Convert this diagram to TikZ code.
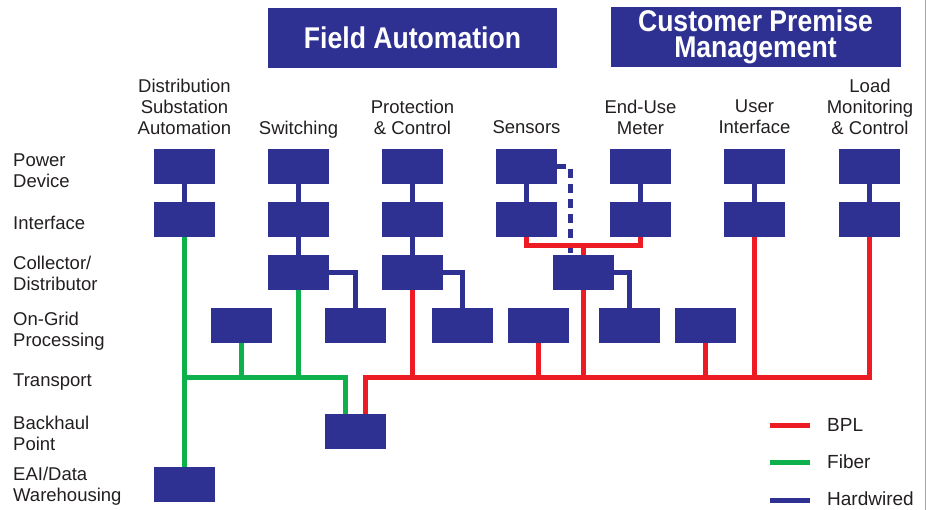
\documentclass[tikz,border=0pt]{standalone}
\usepackage{fontspec}
\setmainfont{Liberation Sans}
\newfontfamily\titlefont[FakeStretch=0.886]{Liberation Sans}
\definecolor{navy}{HTML}{2E3192}
\definecolor{bplred}{HTML}{ED1C24}
\definecolor{fibergreen}{HTML}{0DB04B}
\definecolor{txt}{HTML}{231F20}
\begin{document}
\begin{tikzpicture}[x=1pt,y=-1pt,
  blk/.style={fill=navy,draw=none,minimum width=61pt,minimum height=35pt,inner sep=0pt},
  titlebox/.style={fill=navy,draw=none,inner sep=0pt,text=white,align=center,
    font=\titlefont\bfseries\fontsize{30}{26}\selectfont},
  collabel/.style={anchor=north,inner sep=0pt,align=center,text=txt,
    font=\fontsize{18.5}{21}\selectfont},
  rowlabel/.style={anchor=north west,inner sep=0pt,align=left,text=txt,
    font=\fontsize{18.5}{21}\selectfont},
  leglabel/.style={anchor=west,inner sep=0pt,text=txt,
    font=\fontsize{19}{21}\selectfont},
  wire/.style={line width=5pt,line join=miter},
  hw/.style={wire,navy},
  bpl/.style={wire,bplred},
  fiber/.style={wire,fibergreen},
  hwdash/.style={wire,navy,dash pattern=on 9pt off 6pt}]
\useasboundingbox (0,0) rectangle (929,510);
% right border
\draw[gray!70,line width=1pt] (925.3,0) -- (925.3,510);

% title boxes
\node[titlebox,minimum width=289pt,minimum height=60pt] (fa) at (412.5,37.8) {Field Automation};
\node[titlebox,minimum width=290pt,minimum height=60pt] (cpm) at (755.5,37.3) {Customer Premise\\Management};

% column labels
\node[collabel] (l1) at (184.5,78.5) {Distribution\\Substation\\Automation};
\node[collabel] (l2) at (298.5,120.5) {Switching};
\node[collabel] (l3) at (412.5,99.5) {Protection\\\& Control};
\node[collabel] (l4) at (526.5,120.5) {Sensors};
\node[collabel] (l5) at (640.5,99.5) {End-Use\\Meter};
\node[collabel] (l6) at (754.5,99.5) {User\\Interface};
\node[collabel] (l7) at (870,78.5) {Load\\Monitoring\\\& Control};

% row labels
\node[rowlabel] (rl1) at (13,153.5) {Power\\Device};
\node[rowlabel] (rl2) at (13,216) {Interface};
\node[rowlabel] (rl3) at (13,256) {Collector/\\Distributor};
\node[rowlabel] (rl4) at (13,312) {On-Grid\\Processing};
\node[rowlabel] (rl5) at (13,374) {Transport};
\node[rowlabel] (rl6) at (13,416) {Backhaul\\Point};
\node[rowlabel] (rl7) at (13,467) {EAI/Data\\Warehousing};

% power device and interface rows
\foreach \i/\x in {1/184.5,2/298.5,3/412.5,4/526.5,5/640.5,6/754.5,7/869.5}{
  \node[blk] (p\i) at (\x,166.5) {};
  \node[blk] (f\i) at (\x,219.5) {};
}
% collectors
\node[blk] (k2) at (298.5,272.5) {};
\node[blk] (k3) at (412.5,272.5) {};
\node[blk] (k4) at (583.5,272.5) {};
% on-grid
\foreach \i/\x in {1/241.5,2/355.5,3/462.5,4/538.5,5/629.5,6/705.5}{
  \node[blk] (o\i) at (\x,325.5) {};
}
% backhaul and EAI
\node[blk] (bh) at (355.5,431.5) {};
\node[blk] (ea) at (184.5,484.5) {};

\coordinate (g0) at (184.5,378);
\coordinate (rt) at (583.5,245.5);

% hardwired
\foreach \i in {1,...,7}{ \draw[hw] (p\i.south) -- (f\i.north); }
\draw[hw] (f2.south) -- (k2.north);
\draw[hw] (f3.south) -- (k3.north);
\draw[hw] (k2.east) -| (o2.north);
\draw[hw] (k3.east) -| (o3.north);
\draw[hw] (k4.east) -| (o5.north);
\draw[hwdash] (p4.east) -| ([xshift=-13.5pt]k4.north);

% fiber
\draw[fiber] (f1.south) -- (ea.north);
\draw[fiber] (g0) -| ([xshift=-10pt]bh.north);
\draw[fiber] (o1.south) -- (o1.south |- g0);
\draw[fiber] (k2.south) -- (k2.south |- g0);

% BPL
\draw[bpl] ([xshift=9.5pt]bh.north) |- (f7.south |- g0) -- (f7.south);
\draw[bpl] (k3.south) -- (k3.south |- g0);
\draw[bpl] (o4.south) -- (o4.south |- g0);
\draw[bpl] (k4.south) -- (k4.south |- g0);
\draw[bpl] (o6.south) -- (o6.south |- g0);
\draw[bpl] (f6.south) -- (f6.south |- g0);
\draw[bpl] (f4.south) |- (rt) -| (f5.south);
\draw[bpl] (rt) -- (k4.north);

% legend
\coordinate (la1) at (770,425.7); \coordinate (lb1) at (810,425.7);
\coordinate (la2) at (770,462.7); \coordinate (lb2) at (810,462.7);
\coordinate (la3) at (770,500);   \coordinate (lb3) at (810,500);
\draw[bpl] (la1) -- (lb1);
\draw[fiber] (la2) -- (lb2);
\draw[hw] (la3) -- (lb3);
\node[leglabel] (t1) at (827,424.5) {BPL};
\node[leglabel] (t2) at (827,461.5) {Fiber};
\node[leglabel] (t3) at (827,499) {Hardwired};
\end{tikzpicture}
\end{document}
